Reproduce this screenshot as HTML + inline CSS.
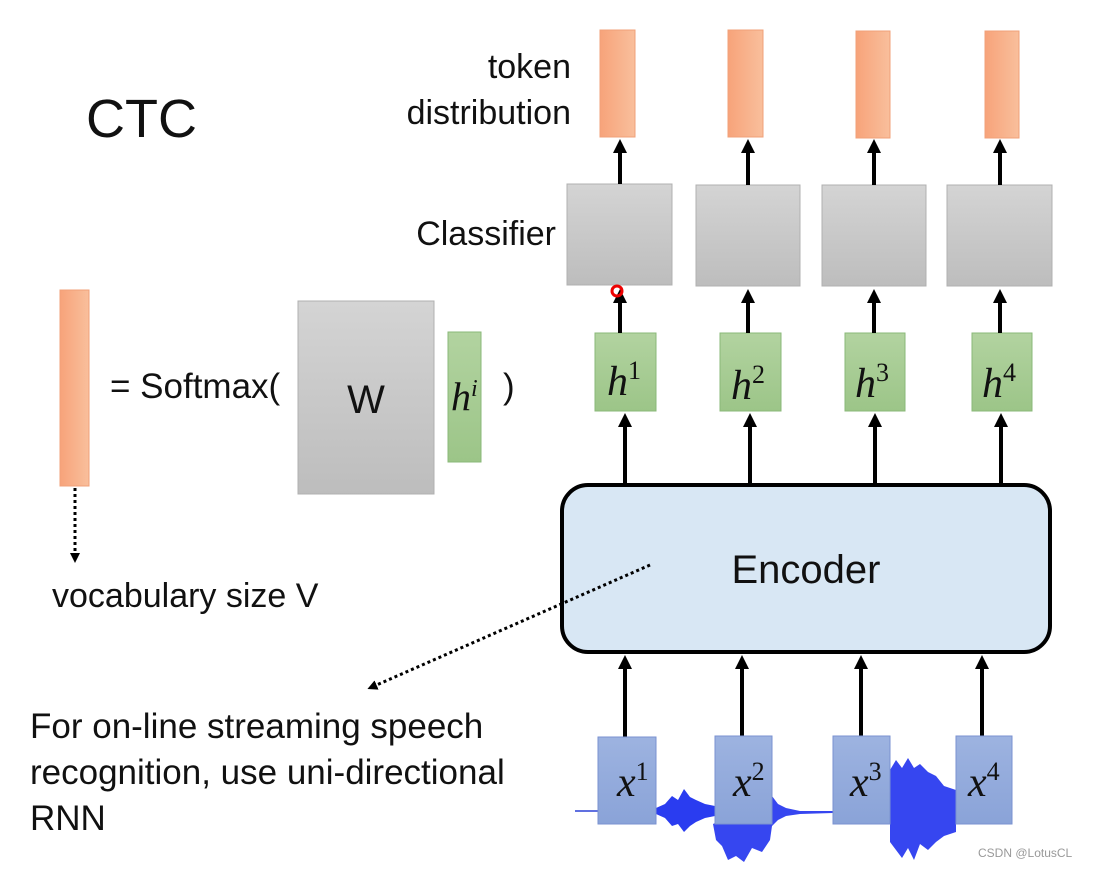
<!DOCTYPE html>
<html><head><meta charset="utf-8"><style>
body{margin:0;background:#fff;}
svg text{font-family:"Liberation Sans",sans-serif;}
.m{font-family:"Liberation Serif",serif;font-style:italic;}
</style></head><body>
<svg width="1114" height="867" viewBox="0 0 1114 867" xmlns="http://www.w3.org/2000/svg">
<defs>
<linearGradient id="or" x1="0" x2="1"><stop offset="0" stop-color="#f7a37a"/><stop offset="1" stop-color="#f9bf9c"/></linearGradient>
<linearGradient id="gr" x1="0" y1="0" x2="0" y2="1"><stop offset="0" stop-color="#d4d4d4"/><stop offset="1" stop-color="#bdbdbd"/></linearGradient>
<linearGradient id="gn" x1="0" y1="0" x2="0" y2="1"><stop offset="0" stop-color="#b2d3a0"/><stop offset="1" stop-color="#9cc588"/></linearGradient>
<linearGradient id="bl" x1="0" y1="0" x2="0" y2="1"><stop offset="0" stop-color="#9db3e0"/><stop offset="1" stop-color="#8aa3d8"/></linearGradient>
<marker id="ah" markerWidth="10" markerHeight="10" refX="5" refY="5" orient="auto" markerUnits="userSpaceOnUse" viewBox="0 0 10 10"><path d="M0,0 L10,5 L0,10 z" fill="#000"/></marker>
<marker id="ah2" markerWidth="14" markerHeight="14" refX="7" refY="7" orient="auto" markerUnits="userSpaceOnUse" viewBox="0 0 14 14"><path d="M0,0 L14,7 L0,14 z" fill="#000"/></marker>
</defs>
<text x="86" y="137" font-size="54" fill="#111">CTC</text>
<text x="571" y="78" font-size="34" text-anchor="end" fill="#111">token</text>
<text x="571" y="124" font-size="34" text-anchor="end" fill="#111">distribution</text>
<text x="556" y="245" font-size="34" text-anchor="end" fill="#111">Classifier</text>

<g stroke="#f0a078" stroke-width="1">
<rect x="600" y="30" width="35" height="107" fill="url(#or)"/>
<rect x="728" y="30" width="35" height="107" fill="url(#or)"/>
<rect x="856" y="31" width="34" height="107" fill="url(#or)"/>
<rect x="985" y="31" width="34" height="107" fill="url(#or)"/>
</g>
<g stroke="#b0b0b0" fill="url(#gr)">
<rect x="567" y="184" width="105" height="101"/>
<rect x="696" y="185" width="104" height="101"/>
<rect x="822" y="185" width="104" height="101"/>
<rect x="947" y="185" width="105" height="101"/>
</g>
<g stroke="#8ab878" fill="url(#gn)">
<rect x="595" y="333" width="61" height="78"/>
<rect x="720" y="333" width="61" height="78"/>
<rect x="845" y="333" width="60" height="78"/>
<rect x="972" y="333" width="60" height="78"/>
</g>
<g font-size="42" fill="#111">
<text x="607" y="395" class="m">h<tspan font-size="26" dy="-16" font-style="normal">1</tspan></text>
<text x="731" y="399" class="m">h<tspan font-size="26" dy="-16" font-style="normal">2</tspan></text>
<text x="855" y="397" class="m">h<tspan font-size="26" dy="-16" font-style="normal">3</tspan></text>
<text x="982" y="397" class="m">h<tspan font-size="26" dy="-16" font-style="normal">4</tspan></text>
</g>
<g stroke="#000" stroke-width="4" marker-end="url(#ah2)">
<line x1="620" y1="184" x2="620" y2="146"/>
<line x1="748" y1="185" x2="748" y2="146"/>
<line x1="874" y1="185" x2="874" y2="146"/>
<line x1="1000" y1="185" x2="1000" y2="146"/>
<line x1="620" y1="333" x2="620" y2="296"/>
<line x1="748" y1="333" x2="748" y2="296"/>
<line x1="874" y1="333" x2="874" y2="296"/>
<line x1="1000" y1="333" x2="1000" y2="296"/>
<line x1="625" y1="485" x2="625" y2="420"/>
<line x1="750" y1="485" x2="750" y2="420"/>
<line x1="875" y1="485" x2="875" y2="420"/>
<line x1="1001" y1="485" x2="1001" y2="420"/>
<line x1="625" y1="737" x2="625" y2="662"/>
<line x1="742" y1="736" x2="742" y2="662"/>
<line x1="861" y1="736" x2="861" y2="662"/>
<line x1="982" y1="736" x2="982" y2="662"/>
</g>
<circle cx="617" cy="291" r="5" fill="none" stroke="#e00" stroke-width="3"/>

<rect x="562" y="485" width="488" height="167" rx="26" fill="#d8e7f4" stroke="#000" stroke-width="4"/>
<text x="806" y="583" font-size="40" text-anchor="middle" fill="#111">Encoder</text>

<!-- waveform -->
<g fill="#2a3cf0" stroke="none">
<line x1="575" y1="811" x2="600" y2="811" stroke="#6070e0" stroke-width="2"/>
<path d="M656,808 L665,804 L672,796 L678,800 L684,789 L690,797 L696,800 L705,804 L715,806 L715,816 L705,818 L696,822 L690,826 L684,832 L678,824 L672,826 L665,818 L656,814z"/>
<path d="M772,796 L778,804 L786,808 L800,811 L833,811 L833,813 L800,814 L786,816 L778,820 L772,826 L770,840 L762,852 L752,848 L744,862 L736,856 L728,860 L722,846 L716,840 L713,824z" fill="#3646f0"/>
<path d="M890,770 L896,760 L902,768 L908,758 L914,768 L920,764 L928,772 L936,776 L944,786 L956,790 L956,832 L944,836 L936,842 L928,850 L920,844 L914,860 L908,848 L902,858 L896,850 L890,842z" fill="#3646f0"/>
</g>
<g stroke="#7a92d0" fill="url(#bl)">
<rect x="598" y="737" width="58" height="87"/>
<rect x="715" y="736" width="57" height="88"/>
<rect x="833" y="736" width="57" height="88"/>
<rect x="956" y="736" width="56" height="88"/>
</g>
<g font-size="42" fill="#111">
<text x="617" y="796" class="m">x<tspan font-size="26" dy="-16" font-style="normal">1</tspan></text>
<text x="733" y="796" class="m">x<tspan font-size="26" dy="-16" font-style="normal">2</tspan></text>
<text x="850" y="796" class="m">x<tspan font-size="26" dy="-16" font-style="normal">3</tspan></text>
<text x="968" y="796" class="m">x<tspan font-size="26" dy="-16" font-style="normal">4</tspan></text>
</g>

<!-- left formula -->
<rect x="60" y="290" width="29" height="196" fill="url(#or)" stroke="#f0a078"/>
<line x1="75" y1="488" x2="75" y2="558" stroke="#000" stroke-width="3" stroke-dasharray="3,3" marker-end="url(#ah)"/>
<text x="52" y="607" font-size="34" fill="#111">vocabulary size V</text>
<text x="110" y="398" font-size="35" fill="#111">= Softmax(</text>
<rect x="298" y="301" width="136" height="193" fill="url(#gr)" stroke="#b0b0b0"/>
<text x="366" y="413" font-size="40" text-anchor="middle" fill="#111">W</text>
<rect x="448" y="332" width="33" height="130" fill="url(#gn)" stroke="#8ab878"/>
<text x="451" y="410" font-size="40" class="m" fill="#111">h<tspan font-size="24" dy="-14">i</tspan></text>
<text x="503" y="398" font-size="35" fill="#111">)</text>

<line x1="650" y1="565" x2="372" y2="687" stroke="#000" stroke-width="3" stroke-dasharray="3,3" marker-end="url(#ah)"/>
<text x="30" y="738" font-size="35" fill="#111">For on-line streaming speech</text>
<text x="30" y="784" font-size="35" fill="#111">recognition, use uni-directional</text>
<text x="30" y="830" font-size="35" fill="#111">RNN</text>
<text x="978" y="857" font-size="12" fill="#999">CSDN @LotusCL</text>
</svg>
</body></html>
